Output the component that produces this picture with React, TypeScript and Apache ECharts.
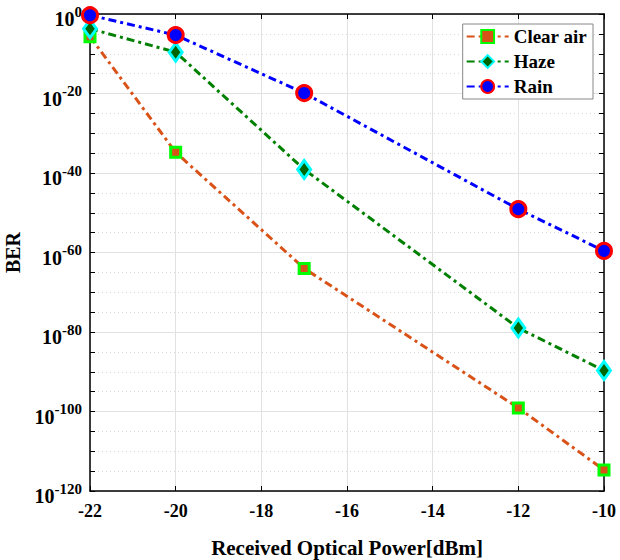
import React, { useEffect, useRef } from "react";
import * as echarts from "echarts";

const powers = [-22, -20, -17, -12, -10];
const clearAirBER = [2e-6, 1.6e-35, 1e-64, 8e-100, 2e-115];
const hazeBER = [2e-4, 2.5e-10, 8e-40, 1e-79, 2e-90];
const rainBER = [5e-1, 5e-6, 1.3e-20, 8e-50, 2.5e-60];
const yTickExponents = [0, -20, -40, -60, -80, -100, -120];
const xTicks = [-22, -20, -18, -16, -14, -12, -10];

const FONT = "'Liberation Serif', 'Times New Roman', serif";

export default function App() {
  const ref = useRef<HTMLDivElement>(null);
  useEffect(() => {
    if (!ref.current) return;
    const chart = echarts.init(ref.current, null, { renderer: "svg" });
    const toPts = (arr: number[]) => arr.map((v, i) => [powers[i], Math.log10(v)]);
    const tickStyle = { show: true, inside: true, length: 5, lineStyle: { color: "#000", width: 1 } };
    const minorTick = { show: true, splitNumber: 4, length: 5, lineStyle: { color: "#000", width: 1 } };
    const axisLine = { show: true, onZero: false, lineStyle: { color: "#000", width: 1.5 } };
    const dash = [8, 4, 3, 4];
    chart.setOption({
      animation: false,
      backgroundColor: "#fff",
      grid: { left: 90, right: 16, top: 14, bottom: 69, containLabel: false, outerBoundsMode: "none" },
      legend: {
        right: 27,
        top: 24,
        orient: "vertical",
        backgroundColor: "#fff",
        borderColor: "#888",
        borderWidth: 1,
        padding: [3, 6, 3, 3],
        itemGap: 6,
        itemWidth: 42,
        itemHeight: 16,
        textStyle: { fontFamily: FONT, fontWeight: "bold", fontSize: 19, color: "#000" },
        data: ["Clear air", "Haze", "Rain"],
      },
      xAxis: [
        {
          type: "value",
          min: -22,
          max: -10,
          interval: 2,
          name: "Received Optical Power[dBm]",
          nameLocation: "middle",
          nameGap: 46,
          nameTextStyle: { fontFamily: FONT, fontWeight: "bold", fontSize: 21, color: "#000" },
          axisLine,
          axisTick: tickStyle,
          axisLabel: { fontFamily: FONT, fontWeight: "bold", fontSize: 18, color: "#000", margin: 11,
            formatter: (v: number) => (xTicks.includes(v) ? String(v) : "") },
          splitLine: { show: true, lineStyle: { color: "#e2e2e2", width: 1 } },
        },
        {
          type: "value",
          position: "top",
          min: -22,
          max: -10,
          interval: 2,
          axisLine,
          axisTick: tickStyle,
          axisLabel: { show: false },
          splitLine: { show: false },
        },
      ],
      yAxis: [
        {
          type: "value",
          min: -120,
          max: 0,
          interval: 20,
          name: "BER",
          nameLocation: "middle",
          nameGap: 67,
          nameTextStyle: { fontFamily: FONT, fontWeight: "bold", fontSize: 20, color: "#000" },
          axisLine,
          axisTick: tickStyle,
          minorTick,
          axisLabel: {
            margin: 8,
            formatter: (v: number) => (yTickExponents.includes(v) ? `{b|10}{s|${v}}` : ""),
            rich: {
              b: { fontFamily: FONT, fontWeight: "bold", fontSize: 20, color: "#000", lineHeight: 30, verticalAlign: "bottom" },
              s: { fontFamily: FONT, fontWeight: "bold", fontSize: 15, color: "#000", lineHeight: 30, verticalAlign: "top", padding: [5, 0, 0, 0] },
            },
          },
          splitLine: { show: true, lineStyle: { color: "#e2e2e2", width: 1 } },
          minorSplitLine: { show: true, lineStyle: { color: "#d8d8d8", width: 1, type: [1, 3] } },
        },
        {
          type: "value",
          position: "right",
          min: -120,
          max: 0,
          interval: 20,
          axisLine,
          axisTick: tickStyle,
          minorTick,
          axisLabel: { show: false },
          splitLine: { show: false },
        },
      ],
      series: [
        {
          name: "Clear air",
          type: "line",
          data: toPts(clearAirBER),
          symbol: "rect",
          symbolSize: 10,
          lineStyle: { color: "#D95319", width: 3, type: dash },
          itemStyle: { color: "#D95319", borderColor: "#00FF00", borderWidth: 3 },
          z: 3,
        },
        {
          name: "Haze",
          type: "line",
          data: toPts(hazeBER),
          symbol: "diamond",
          symbolSize: [13, 18],
          lineStyle: { color: "#008000", width: 3, type: dash },
          itemStyle: { color: "#006400", borderColor: "#00FFFF", borderWidth: 3 },
          z: 4,
        },
        {
          name: "Rain",
          type: "line",
          data: toPts(rainBER),
          symbol: "circle",
          symbolSize: 15,
          lineStyle: { color: "#0000FF", width: 3, type: dash },
          itemStyle: { color: "#0000FF", borderColor: "#FF0000", borderWidth: 3 },
          z: 5,
        },
      ],
    });
    return () => chart.dispose();
  }, []);
  return <div ref={ref} style={{ width: 620, height: 560, position: "absolute", left: 0, top: 0 }} />;
}
